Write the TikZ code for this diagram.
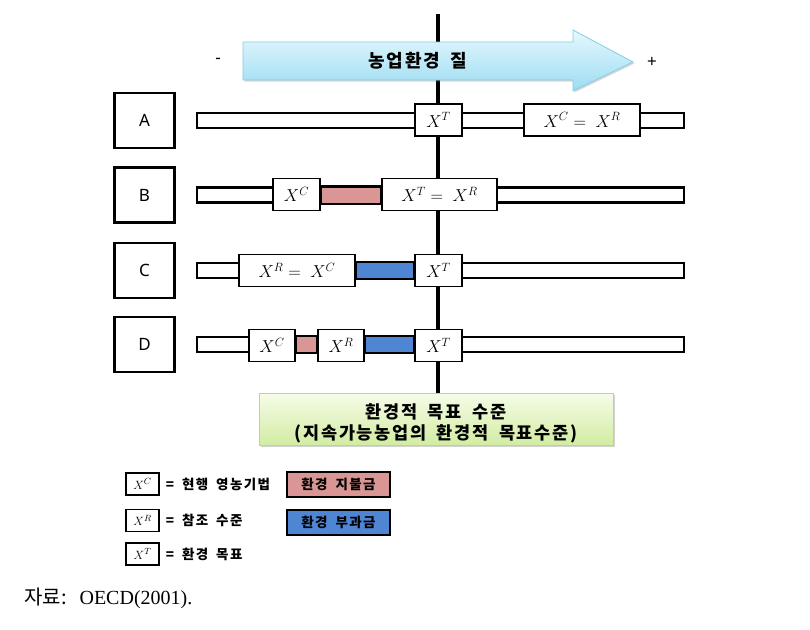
\documentclass[tikz,border=0pt]{standalone}
\usepackage{fontspec}
\setmainfont{Liberation Serif}
\newfontfamily\kr{Noto Sans CJK KR}
\newfontfamily\krw{Noto Sans CJK KR}[LetterSpace=10,WordSpace=1.8]
\newfontfamily\lab{Noto Sans}
\usetikzlibrary{positioning,shadows}
\pgfdeclarelayer{bars}
\pgfsetlayers{bars,main}

\definecolor{arrowtop}{HTML}{E6F8FD}
\definecolor{arrowbot}{HTML}{9CDCF2}
\definecolor{arrowline}{HTML}{86CBE3}
\definecolor{goaltop}{HTML}{F6FCE8}
\definecolor{goalbot}{HTML}{D2ECA2}
\definecolor{goalline}{HTML}{B9DA84}
\definecolor{payred}{HTML}{D99694}
\definecolor{taxblue}{HTML}{4F86D4}

\begin{document}
\begin{tikzpicture}[x=1pt,y=-1pt,line join=miter,
  casebox/.style={draw,line width=2.2pt,minimum width=60pt,minimum height=55pt,inner sep=0pt,
    font=\lab\fontsize{17}{17}\selectfont},
  barbox/.style={draw,line width=2.4pt,fill=white,minimum width=487pt,minimum height=15pt,inner sep=0pt},
  xbox/.style={draw,line width=1.8pt,fill=white,minimum height=32pt,inner sep=0pt,
    font=\fontsize{18}{18}\selectfont},
  keybox/.style={draw,line width=1.3pt,fill=white,minimum width=33pt,minimum height=22pt,inner sep=0pt,
    font=\fontsize{13}{13}\selectfont},
  keytext/.style={inner sep=0pt,font=\krw\bfseries\fontsize{13.5}{13.5}\selectfont},
  feebox/.style={draw,line width=2.6pt,minimum width=103pt,minimum height=25pt,inner sep=0pt,
    font=\krw\bfseries\fontsize{13.5}{13.5}\selectfont},
  segment/.style={draw,line width=2.4pt}]

  \useasboundingbox (0,0) rectangle (810,629);

  % axis of the target level
  \coordinate (axtop) at (438,14);

  % cases and their bars
  \foreach \c/\y in {A/120.5,B/195,C/270.5,D/344.5}
  {
    \node[casebox] (case\c) at (144.5,\y) {\c};
    \begin{pgfonlayer}{bars}
      \node[barbox] (bar\c) at (440.5,\y) {};
    \end{pgfonlayer}
  }

  % goal box
  \node[draw=goalline,line width=1pt,top color=goaltop,bottom color=goalbot,
    drop shadow={opacity=0.35,shadow xshift=2pt,shadow yshift=-2pt},
    minimum width=354pt,minimum height=52pt] (goal) at (436,419) {};
  \node[align=center,inner sep=0pt,font=\krw\bfseries\fontsize{17.5}{21}\selectfont]
    (goaltext) at ([yshift=-4pt]goal.center)
    {환경적 목표 수준\\(지속가능농업의 환경적 목표수준)};

  \draw[line width=4pt] (axtop) -- (axtop |- goal.north);

  % quality arrow
  \shade[top color=arrowtop,bottom color=arrowbot,draw=arrowline,line width=0.8pt,
    drop shadow={opacity=0.3,shadow xshift=1.5pt,shadow yshift=-1.5pt}]
    (243,42) -- (573,42) -- (573,30) -- (633,62) -- (573,91) -- (573,80) -- (243,80) -- cycle;
  \node[font=\krw\bfseries\fontsize{18}{18}\selectfont] (qual) at (418,61) {농업환경 질};
  \node[font=\lab\fontsize{17}{17}\selectfont] (minus) at (218,61) {-};
  \node[font=\lab\fontsize{17}{17}\selectfont] (plus) at (652,62) {+};

  % case A
  \node[xbox,minimum width=47pt] (tA) at (438.5,120) {$X^T$};
  \node[xbox,minimum width=116pt] (crA) at (582,120) {$X^C =\; X^R$};

  % case B
  \node[xbox,minimum width=47pt] (cB) at (296.5,194.5) {$X^C$};
  \node[xbox,minimum width=115pt] (trB) at (439.5,194.5) {$X^T =\; X^R$};

  % case C
  \node[xbox,minimum width=116pt] (rcC) at (297,270.5) {$X^R =\; X^C$};
  \node[xbox,minimum width=47pt] (tC) at (438.5,270.5) {$X^T$};

  % case D
  \node[xbox,minimum width=46pt] (cD) at (272,345.5) {$X^C$};
  \node[xbox,minimum width=46pt] (rD) at (341,345.5) {$X^R$};
  \node[xbox,minimum width=47pt] (tD) at (438.5,345.5) {$X^T$};

  % payments and charges
  \begin{pgfonlayer}{bars}
    \draw[segment,fill=payred] (cB.east |- barB.north) rectangle (trB.west |- barB.south);
    \draw[segment,fill=taxblue] (rcC.east |- barC.north) rectangle (tC.west |- barC.south);
    \draw[segment,fill=payred] (cD.east |- barD.north) rectangle (rD.west |- barD.south);
    \draw[segment,fill=taxblue] (rD.east |- barD.north) rectangle (tD.west |- barD.south);
  \end{pgfonlayer}

  % legend
  \node[keybox] (keyC) at (142.5,484) {$X^C$};
  \node[keybox] (keyR) at (142.5,520.5) {$X^R$};
  \node[keybox] (keyT) at (142.5,554) {$X^T$};
  \node[keytext,right=6pt of keyC] (keyCt) {= 현행 영농기법};
  \node[keytext,right=6pt of keyR] (keyRt) {= 참조 수준};
  \node[keytext,right=6pt of keyT] (keyTt) {= 환경 목표};
  \node[feebox,fill=payred] (keyPay) at (338.5,484.5) {환경 지불금};
  \node[feebox,fill=taxblue] (keyTax) at (338.5,522.5) {환경 부과금};

  % source
  \node[anchor=west,inner sep=0pt,font=\fontsize{20}{20}\selectfont] (src) at (24,598)
    {{\kr 자료:}\hspace{13pt}OECD(2001).};
\end{tikzpicture}
\end{document}
